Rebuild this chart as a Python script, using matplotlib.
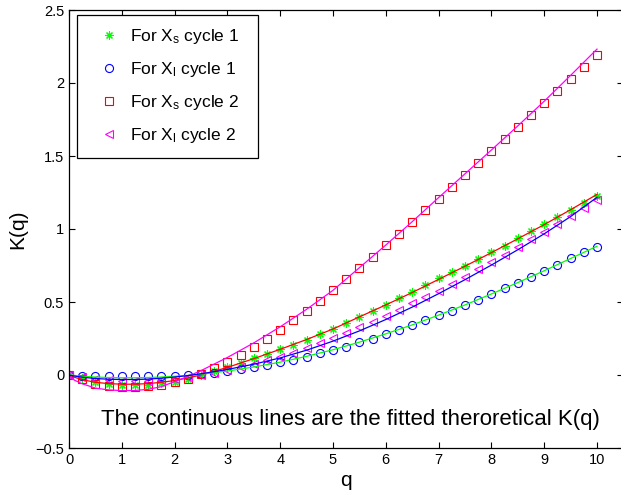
import matplotlib
matplotlib.use("Agg")
import matplotlib.pyplot as plt
from matplotlib.lines import Line2D

plt.rcParams['font.family'] = ['Liberation Sans', 'DejaVu Sans']
plt.rcParams['mathtext.fontset'] = 'custom'
plt.rcParams['mathtext.rm'] = 'Liberation Sans'
plt.rcParams['mathtext.default'] = 'regular'

# q values of the measured points
q = [0, 0.25, 0.5, 0.75, 1, 1.25, 1.5, 1.75, 2, 2.25, 2.5, 2.75, 3, 3.25, 3.5,
     3.75, 4, 4.25, 4.5, 4.75, 5, 5.25, 5.5, 5.75, 6, 6.25, 6.5, 6.75, 7, 7.25,
     7.5, 7.75, 8, 8.25, 8.5, 8.75, 9, 9.25, 9.5, 9.75, 10]

xs_cycle1 = [0, -0.022, -0.045, -0.06, -0.066, -0.068, -0.066, -0.058, -0.045,
             -0.025, 0.0, 0.028, 0.056, 0.084, 0.114, 0.144, 0.176, 0.208, 0.24,
             0.279, 0.317, 0.354, 0.4, 0.438, 0.482, 0.524, 0.571, 0.616, 0.662,
             0.708, 0.749, 0.797, 0.845, 0.886, 0.936, 0.988, 1.034, 1.08, 1.128,
             1.176, 1.228]
xl_cycle1 = [0, -0.006, -0.009, -0.01, -0.01, -0.01, -0.01, -0.008, -0.005,
             -0.001, 0.006, 0.016, 0.027, 0.041, 0.053, 0.068, 0.089, 0.103,
             0.125, 0.148, 0.171, 0.194, 0.224, 0.249, 0.281, 0.308, 0.341,
             0.377, 0.411, 0.44, 0.479, 0.514, 0.553, 0.594, 0.632, 0.673, 0.714,
             0.753, 0.799, 0.84, 0.879]
xs_cycle2 = [0, -0.03, -0.06, -0.075, -0.08, -0.082, -0.078, -0.068, -0.05,
             -0.028, 0.009, 0.05, 0.091, 0.14, 0.192, 0.25, 0.31, 0.375, 0.44,
             0.51, 0.585, 0.658, 0.734, 0.81, 0.888, 0.969, 1.048, 1.128, 1.208,
             1.288, 1.37, 1.45, 1.534, 1.614, 1.696, 1.778, 1.861, 1.943, 2.025,
             2.107, 2.19]
xl_cycle2 = [0, -0.015, -0.028, -0.037, -0.042, -0.044, -0.042, -0.036, -0.026,
             -0.013, 0.0, 0.016, 0.033, 0.052, 0.073, 0.1, 0.125, 0.153, 0.185,
             0.221, 0.256, 0.29, 0.327, 0.365, 0.404, 0.448, 0.491, 0.536, 0.575,
             0.621, 0.673, 0.726, 0.772, 0.822, 0.875, 0.929, 0.979, 1.034, 1.089,
             1.144, 1.199]

# fitted theoretical K(q)
q_fit = [0, 0.1, 0.25, 0.5, 0.75, 1, 1.25, 1.5, 1.75, 2, 2.25, 2.5, 3, 3.5, 4,
         4.5, 5, 5.5, 6, 6.5, 7, 7.5, 8, 8.5, 9, 9.5, 10]
fit_xs1 = [0, -0.015, -0.032, -0.05, -0.059, -0.063, -0.063, -0.059, -0.05,
           -0.038, -0.02, 0.0, 0.052, 0.112, 0.176, 0.243, 0.315, 0.398, 0.48,
           0.565, 0.655, 0.745, 0.838, 0.933, 1.03, 1.132, 1.237]
fit_xl1 = [0, -0.004, -0.009, -0.014, -0.017, -0.019, -0.019, -0.017, -0.014,
           -0.009, -0.003, 0.005, 0.027, 0.055, 0.088, 0.128, 0.173, 0.225,
           0.282, 0.343, 0.41, 0.48, 0.555, 0.633, 0.714, 0.798, 0.882]
fit_xs2 = [0, -0.035, -0.06, -0.09, -0.102, -0.107, -0.106, -0.098, -0.08,
           -0.045, -0.01, 0.03, 0.12, 0.22, 0.33, 0.45, 0.58, 0.735, 0.89, 1.05,
           1.215, 1.378, 1.541, 1.706, 1.875, 2.052, 2.232]
fit_xl2 = [0, -0.007, -0.015, -0.024, -0.029, -0.031, -0.031, -0.028, -0.022,
           -0.014, -0.004, 0.008, 0.038, 0.074, 0.117, 0.17, 0.232, 0.302, 0.38,
           0.465, 0.557, 0.653, 0.753, 0.858, 0.967, 1.085, 1.217]

labels = [r'For X$_{s}$ cycle 1  ', r'For X$_{l}$ cycle 1  ',
          r'For X$_{s}$ cycle 2  ', r'For X$_{l}$ cycle 2  ']

W, H = 621, 493
fig = plt.figure(figsize=(W / 100, H / 100), dpi=100)
ax = fig.add_axes([69 / W, (H - 448) / H, (623.4 - 69) / W, (448 - 10) / H])

ms = 5.8
mew = 0.8
ax.plot(q, xs_cycle1, ls='none', marker=(8, 2, 0), color='#00ff00', ms=ms, mew=mew)
ax.plot(q, xl_cycle1, ls='none', marker='o', mfc='none', mec='#0000ff', ms=ms, mew=mew)
ax.plot(q, xs_cycle2, ls='none', marker='s', mfc='none', mec='#ff0000', ms=ms, mew=mew)
ax.plot(q, xl_cycle2, ls='none', marker='<', mfc='none', mec='#ff00ff', ms=ms, mew=mew)

lw = 0.9
ax.plot(q_fit, fit_xs1, color='#ff0000', lw=lw)
ax.plot(q_fit, fit_xl1, color='#00ff00', lw=lw)
ax.plot(q_fit, fit_xs2, color='#ff00ff', lw=lw)
ax.plot(q_fit, fit_xl2, color='#0000ff', lw=lw)

ax.set_xlim(0, 10.5)
ax.set_ylim(-0.5, 2.5)
ax.set_xticks(range(0, 11))
ax.set_yticks([-0.5, 0, 0.5, 1, 1.5, 2, 2.5])
ax.set_yticklabels(['\u22120.5', '0', '0.5', '1', '1.5', '2', '2.5'])
ax.tick_params(direction='in', top=True, right=True, labelsize=10.5, length=4, width=0.8)
ax.spines['right'].set_visible(False)
for s in ['left', 'bottom', 'top']:
    ax.spines[s].set_linewidth(0.9)

ax.set_xlabel('q', fontsize=15, labelpad=3)
ax.set_ylabel('K(q)', fontsize=15, labelpad=6)

ax.text(0.508, 0.066, 'The continuous lines are the fitted theroretical K(q)',
        transform=ax.transAxes, ha='center', va='center', fontsize=16)

handles = [
    Line2D([], [], ls='none', marker=(8, 2, 0), color='#00ff00', ms=ms, mew=mew),
    Line2D([], [], ls='none', marker='o', mfc='none', mec='#0000ff', ms=ms, mew=mew),
    Line2D([], [], ls='none', marker='s', mfc='none', mec='#ff0000', ms=ms, mew=mew),
    Line2D([], [], ls='none', marker='<', mfc='none', mec='#ff00ff', ms=ms, mew=mew),
]
leg = ax.legend(handles, labels, loc='upper left',
                bbox_to_anchor=((77 - 69) / 554.4, (448 - 15) / 438),
                borderaxespad=0, fontsize=12.5, frameon=True, fancybox=False,
                edgecolor='black', framealpha=1, labelspacing=0.8,
                handlelength=2.2, handletextpad=0.15, borderpad=0.72)
leg.get_frame().set_linewidth(0.9)

fig.savefig('out.png', dpi=100)
